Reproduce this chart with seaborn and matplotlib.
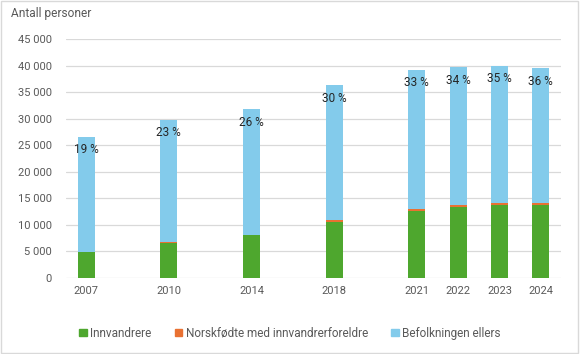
import matplotlib
matplotlib.use("Agg")
import matplotlib.pyplot as plt
import seaborn as sns
import pandas as pd
import numpy as np
from matplotlib.patches import Rectangle, Patch
from matplotlib.ticker import FuncFormatter

years = ["2007", "2010", "2014", "2018", "2021", "2022", "2023", "2024"]
slots = [0, 2, 4, 6, 8, 9, 10, 11]
innvandrere = [4900, 6500, 8100, 10600, 12600, 13400, 13750, 13750]
norskfodte = [60, 250, 80, 250, 400, 300, 350, 350]
totals = [26600, 29800, 31800, 36300, 39200, 39700, 40000, 39500]
percents = ["19 %", "23 %", "26 %", "30 %", "33 %", "34 %", "35 %", "36 %"]

GREEN = "#4EA72E"
ORANGE = "#E97132"
BLUE = "#83CBEB"
GRID = "#D9D9D9"
TXT = "#595959"

sns.set_theme(style="white")
plt.rcParams["font.family"] = ["Roboto", "DejaVu Sans"]

df = pd.DataFrame({
    "pos": slots,
    "innv": innvandrere,
    "innv_nf": np.array(innvandrere) + np.array(norskfodte),
    "total": totals,
})

fig = plt.figure(figsize=(5.8, 3.54), dpi=100)
ax = fig.add_axes([0.113, 0.2147, 0.855, 0.6753])

common = dict(data=df, x="pos", native_scale=True, width=0.41, ax=ax, linewidth=0, saturation=1)
sns.barplot(y="total", color=BLUE, **common)
sns.barplot(y="innv_nf", color=ORANGE, **common)
sns.barplot(y="innv", color=GREEN, **common)

ax.set_xlim(-0.5, 11.5)
ax.set_ylim(0, 45000)
ax.set_yticks(np.arange(0, 45001, 5000))
ax.yaxis.set_major_formatter(FuncFormatter(lambda v, p: f"{int(v):,}".replace(",", " ")))
ax.set_xticks(slots)
ax.set_xticklabels(years)
ax.set_xlabel("")
ax.set_ylabel("")
ax.grid(axis="y", color=GRID, linewidth=0.9)
ax.set_axisbelow(True)
for s in ax.spines.values():
    s.set_visible(False)
ax.tick_params(axis="both", length=0, colors=TXT, labelsize=8)
ax.tick_params(axis="y", pad=10)
ax.tick_params(axis="x", pad=6)

for x, t, p in zip(slots, totals, percents):
    ax.annotate(p, (x, t), xytext=(0, -9.5), textcoords="offset points",
                ha="center", va="center", fontsize=8.5, color="#262626")

fig.text(0.019, 0.963, "Antall personer", fontsize=8.6, color=TXT, ha="left", va="center")

handles = [Patch(color=GREEN), Patch(color=ORANGE), Patch(color=BLUE)]
labels = ["Innvandrere", "Norskfødte med innvandrerforeldre", "Befolkningen ellers"]
fig.legend(handles, labels, loc="center", bbox_to_anchor=(0.5, 0.059), ncol=3,
           frameon=False, fontsize=8.5, labelcolor=TXT, handlelength=0.6, handleheight=0.6,
           handletextpad=0.3, columnspacing=2.0)

fig.add_artist(Rectangle((0.002, 0.003), 0.995, 0.994, transform=fig.transFigure,
                         fill=False, edgecolor=GRID, linewidth=1))

fig.savefig("out.png", dpi=100)
